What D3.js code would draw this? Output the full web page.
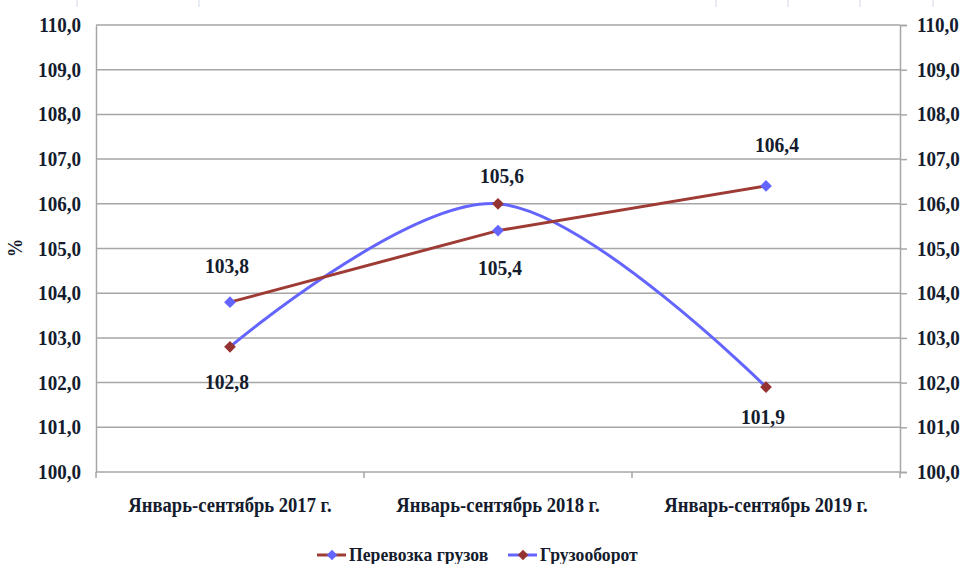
<!DOCTYPE html>
<html>
<head>
<meta charset="utf-8">
<script src="https://cdn.jsdelivr.net/npm/d3@7"></script>
<style>
	body { margin: 0; background: #fff; }
</style>
</head>
<body>
<div id="chart"></div>
<script>
'use strict';

var categories = ['Январь-сентябрь 2017 г.', 'Январь-сентябрь 2018 г.', 'Январь-сентябрь 2019 г.'];
var seriesNames = ['Перевозка грузов', 'Грузооборот'];
var cargo = [103.8, 105.4, 106.4];
var cargoLabels = ['103,8', '105,4', '106,4'];
var turnover = [102.8, 106.0, 101.9];
var turnoverLabels = ['102,8', '105,6', '101,9'];
var yTicks = [100, 101, 102, 103, 104, 105, 106, 107, 108, 109, 110];

var width = 962, height = 564;
var margin = { top: 25, right: 62, bottom: 92, left: 96 };
var FONT = 'Liberation Serif';
var INK = '#141c2e';
var GRID = '#a6a6a6';

var svg = d3.select('#chart').append('svg')
	.attr('width', width)
	.attr('height', height)
	.style('font-family', FONT);

// faint lines left at the top edge
[77, 199, 716, 788, 860, 933].forEach(function (x)	{
	svg.append('line')
		.attr('x1', x).attr('x2', x)
		.attr('y1', 0).attr('y2', 7)
		.attr('stroke', '#e2e5ee')
		.attr('stroke-width', 1.5);
});

var x = d3.scaleBand()
	.domain(categories)
	.range([margin.left, width - margin.right]);

var y = d3.scaleLinear()
	.domain([100, 110])
	.range([height - margin.bottom, margin.top]);

function fmt (v)	{
	return d3.format('.1f')(v).replace('.', ',');
};

// serif bold text, slightly narrowed like the source
function styleText (sel, size)	{
	sel.attr('font-family', null)
		 .style('font-family', FONT)
		 .style('font-weight', 'bold')
		 .style('font-size', size + 'px')
		 .attr('fill', INK)
		 .each(function ()	{
			 var w = this.getComputedTextLength();
			 d3.select(this)
				 .attr('textLength', w * 0.93)
				 .attr('lengthAdjust', 'spacingAndGlyphs');
		 });
};

// gridlines
svg.append('g')
	.selectAll('line')
	.data(yTicks)
	.join('line')
	.attr('x1', margin.left)
	.attr('x2', width - margin.right)
	.attr('y1', function (d) { return y(d); })
	.attr('y2', function (d) { return y(d); })
	.attr('stroke', GRID)
	.attr('stroke-width', 1.5);

// left axis
var left = svg.append('g')
	.attr('transform', 'translate(' + margin.left + ',0)')
	.call(d3.axisLeft(y).tickValues(yTicks).tickSize(0).tickPadding(15).tickFormat(fmt))
	.attr('font-family', null);
left.select('.domain').attr('stroke', GRID).attr('stroke-width', 1.5);
styleText(left.selectAll('text'), 20.5);

// right axis
var right = svg.append('g')
	.attr('transform', 'translate(' + (width - margin.right) + ',0)')
	.call(d3.axisRight(y).tickValues(yTicks).tickSize(7).tickPadding(10).tickFormat(fmt))
	.attr('font-family', null);
right.select('.domain').attr('stroke', GRID).attr('stroke-width', 1.5);
right.selectAll('line').attr('stroke', GRID).attr('stroke-width', 1.5);
styleText(right.selectAll('text'), 20.5);

// bottom ticks at category boundaries
var bounds = [margin.left].concat(categories.map(function (c) { return x(c) + x.bandwidth(); }));
svg.append('g')
	.selectAll('line')
	.data(bounds)
	.join('line')
	.attr('x1', function (d) { return d; })
	.attr('x2', function (d) { return d; })
	.attr('y1', y(100))
	.attr('y2', y(100) + 6)
	.attr('stroke', GRID)
	.attr('stroke-width', 1.5);

var cats = svg.append('g')
	.selectAll('text')
	.data(categories)
	.join('text')
	.attr('x', function (d) { return x(d) + x.bandwidth() / 2; })
	.attr('y', y(100) + 40)
	.attr('text-anchor', 'middle')
	.text(function (d) { return d; });
styleText(cats, 20);

// y title
styleText(svg.append('text')
	.attr('transform', 'translate(22,' + 248 + ') rotate(-90)')
	.attr('text-anchor', 'middle')
	.text('%'), 20);

var cx = function (d, i) { return x(categories[i]) + x.bandwidth() / 2; };
var redCol = '#9e3b35', blueCol = '#6464ff', redMark = '#953232';

// turnover (smooth blue line, red diamonds)
svg.append('path')
	.datum(turnover)
	.attr('fill', 'none')
	.attr('stroke', blueCol)
	.attr('stroke-width', 3)
	.attr('d', d3.line().x(cx).y(function (d) { return y(d); }).curve(d3.curveCardinal.tension(0)));

// cargo (straight red line, blue diamonds)
svg.append('path')
	.datum(cargo)
	.attr('fill', 'none')
	.attr('stroke', redCol)
	.attr('stroke-width', 3)
	.attr('d', d3.line().x(cx).y(function (d) { return y(d); }));

var diamond = d3.symbol().type(d3.symbolDiamond2).size(88);

function markers (data, fill)	{
	svg.append('g')
		.selectAll('path')
		.data(data)
		.join('path')
		.attr('transform', function (d, i) { return 'translate(' + cx(d, i) + ',' + y(d) + ')'; })
		.attr('d', diamond)
		.attr('fill', fill);
};
markers(cargo, blueCol);
markers(turnover, redMark);

// data labels
var cargoOffset = [[-3, -29], [2, 44], [11, -34]];
var turnoverOffset = [[-3, 42], [4, -21], [-3, 37]];

function labels (data, texts, offs)	{
	var t = svg.append('g')
		.selectAll('text')
		.data(data)
		.join('text')
		.attr('x', function (d, i) { return cx(d, i) + offs[i][0]; })
		.attr('y', function (d, i) { return y(d) + offs[i][1]; })
		.attr('text-anchor', 'middle')
		.text(function (d, i) { return texts[i]; });
	styleText(t, 21);
};
labels(cargo, cargoLabels, cargoOffset);
labels(turnover, turnoverLabels, turnoverOffset);

// legend
var legend = [
	{ name: seriesNames[0], line: redCol, mark: blueCol, x: 317 },
	{ name: seriesNames[1], line: blueCol, mark: redMark, x: 508 }
];
var lg = svg.append('g').selectAll('g').data(legend).join('g')
	.attr('transform', function (d) { return 'translate(' + d.x + ',555)'; });
lg.append('line')
	.attr('x1', 0).attr('x2', 29)
	.attr('stroke', function (d) { return d.line; })
	.attr('stroke-width', 3);
lg.append('path')
	.attr('transform', 'translate(15,0)')
	.attr('d', d3.symbol().type(d3.symbolDiamond2).size(70))
	.attr('fill', function (d) { return d.mark; });
styleText(lg.append('text')
	.attr('x', 32)
	.attr('y', 6)
	.text(function (d) { return d.name; }), 19);
</script>
</body>
</html>
